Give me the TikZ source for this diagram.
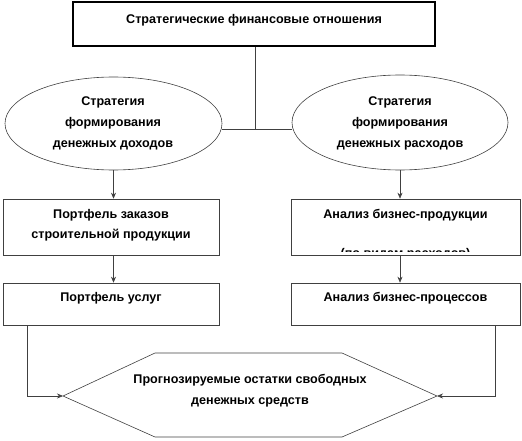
\documentclass[tikz,border=0pt]{standalone}
\usepackage{fontspec}
\setmainfont{Liberation Sans}
\usetikzlibrary{arrows.meta,shapes.geometric}
\begin{document}
\begin{tikzpicture}[x=1pt,y=-1pt,
  ln/.style={draw=black!75,line width=0.6pt},
  arr/.style={ln,-{Stealth[length=6pt,width=5pt]}},
  boxn/.style={ln,rectangle,inner sep=0pt},
  elln/.style={ln,ellipse,inner sep=0pt},
  txt/.style={font=\fontsize{12.6}{14}\selectfont\bfseries,inner sep=0pt,anchor=center}]
\useasboundingbox (0,0) rectangle (522,441);
% top box
\node[draw=black,line width=2pt,rectangle,minimum width=362pt,minimum height=44pt,inner sep=0pt] (top) at (254,24.5) {};
\node[txt] (toptxt) at (254,20) {Стратегические финансовые отношения};
% ellipses
\node[elln,minimum width=217pt,minimum height=93pt] (L) at (113.5,123.5) {};
\node[elln,minimum width=216pt,minimum height=95pt] (R) at (400,122.5) {};
\node[txt] (L1) at (113,102) {Стратегия};
\node[txt] (L2) at (113,123) {формирования};
\node[txt] (L3) at (113,145) {денежных доходов};
\node[txt] (R1) at (400,102) {Стратегия};
\node[txt] (R2) at (400,123) {формирования};
\node[txt] (R3) at (400,145) {денежных расходов};
% boxes
\node[boxn,minimum width=216pt,minimum height=56pt] (B1) at (111,227) {};
\node[boxn,minimum width=229pt,minimum height=56pt] (B2) at (405.5,227) {};
\node[boxn,minimum width=216pt,minimum height=42pt] (B3) at (111,304) {};
\node[boxn,minimum width=229pt,minimum height=42pt] (B4) at (405.5,304) {};
\node[txt] (B1a) at (111,215) {Портфель заказов};
\node[txt] (B1b) at (111,235.5) {строительной продукции};
\node[txt] (B2a) at (405.5,215) {Анализ бизнес-продукции};
\begin{scope}
\clip (292,200) rectangle (519,251);
\node[txt] (B2b) at (405.5,254) {(по видам расходов)};
\end{scope}
\node[txt] (B3a) at (111,298) {Портфель услуг};
\node[txt] (B4a) at (405.5,298) {Анализ бизнес-процессов};
% hexagon
\coordinate (hl) at (63,396);
\coordinate (hr) at (437,396);
\draw[ln] (hl) -- (155,353) -- (342,353) -- (hr) -- (342,437) -- (155,437) -- cycle;
\node[txt] (H1) at (250,380) {Прогнозируемые остатки свободных};
\node[txt] (H2) at (250,402) {денежных средств};
% connectors
\coordinate (j) at (255,129);
\draw[ln] (top.south -| j) -- (j);
\draw[ln] ([xshift=-0.5pt]L.east |- j) -- ([xshift=0.5pt]R.west |- j);
\draw[arr] (L.south) -- (L.south |- B1.north);
\draw[arr] (R.south) -- (R.south |- B2.north);
\draw[arr] (L.south |- B1.south) -- (L.south |- B3.north);
\draw[arr] (R.south |- B2.south) -- (R.south |- B4.north);
\coordinate (cl) at (27,325);
\coordinate (cr) at (495,325);
\draw[arr] (cl |- B3.south) -- (cl |- hl) -- (hl);
\draw[arr] (cr |- B4.south) -- (cr |- hr) -- (hr);
\end{tikzpicture}
\end{document}
